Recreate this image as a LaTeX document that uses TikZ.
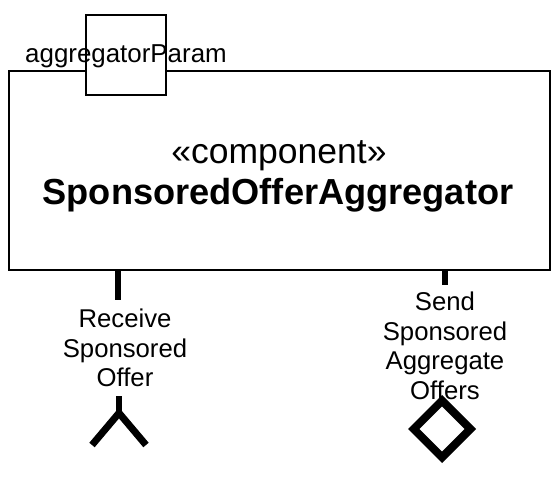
\documentclass[tikz,border=0pt]{standalone}
\usepackage{fontspec}
\setmainfont{Liberation Sans}
\usetikzlibrary{shapes.geometric}
\tikzset{
  compbox/.style={draw, line width=2.5pt, fill=white, inner sep=0pt, minimum width=541pt, minimum height=199pt},
  parambox/.style={draw, line width=2pt, fill=white, inner sep=0pt, minimum size=80pt},
  lbl/.style={align=center, inner sep=0pt, font=\fontsize{25.7}{29.5}\selectfont},
  portline/.style={line width=6pt},
  socket/.style={line width=7pt, line join=miter},
  lollip/.style={draw, shape=diamond, line width=8pt, inner sep=0pt, minimum width=60pt, minimum height=60pt}
}
\begin{document}
\begin{tikzpicture}[x=1pt,y=-1pt]
\useasboundingbox (0,0) rectangle (560,478);
\node[compbox] (comp) at (279.5,170.5) {};
\node[parambox] (param) at (126,55) {};
\node[anchor=base west, inner sep=0pt, font=\fontsize{25.9}{29}\selectfont] (pname) at (25,63) {aggregatorParam};
\node[anchor=base, inner sep=0pt, font=\fontsize{35.5}{38}\selectfont] (stereo) at (279,164) {«component»};
\node[anchor=base, inner sep=0pt, font=\fontsize{36.2}{38}\selectfont\bfseries] (title) at (278,205) {SponsoredOfferAggregator};
% left port
\coordinate (lp) at (118,270);
\node[lbl] (lrecv) at (125,348) {Receive\\Sponsored\\Offer};
\coordinate (lapex) at (119,413);
\coordinate (la) at (92,445);
\coordinate (lb) at (146,445);
\draw[portline] (lp) -- ++(0,30);
\draw[portline] (lapex |- lrecv.south) ++(0,9) -- (lapex);
\draw[socket] (la) -- (lapex) -- (lb);
% right port
\coordinate (rp) at (445,270);
\node[lbl] (lsend) at (445,346) {Send\\Sponsored\\Aggregate\\Offers};
\draw[portline] (rp) -- ++(0,15);
\node[lollip] (rlol) at (442,429) {};
\end{tikzpicture}
\end{document}
